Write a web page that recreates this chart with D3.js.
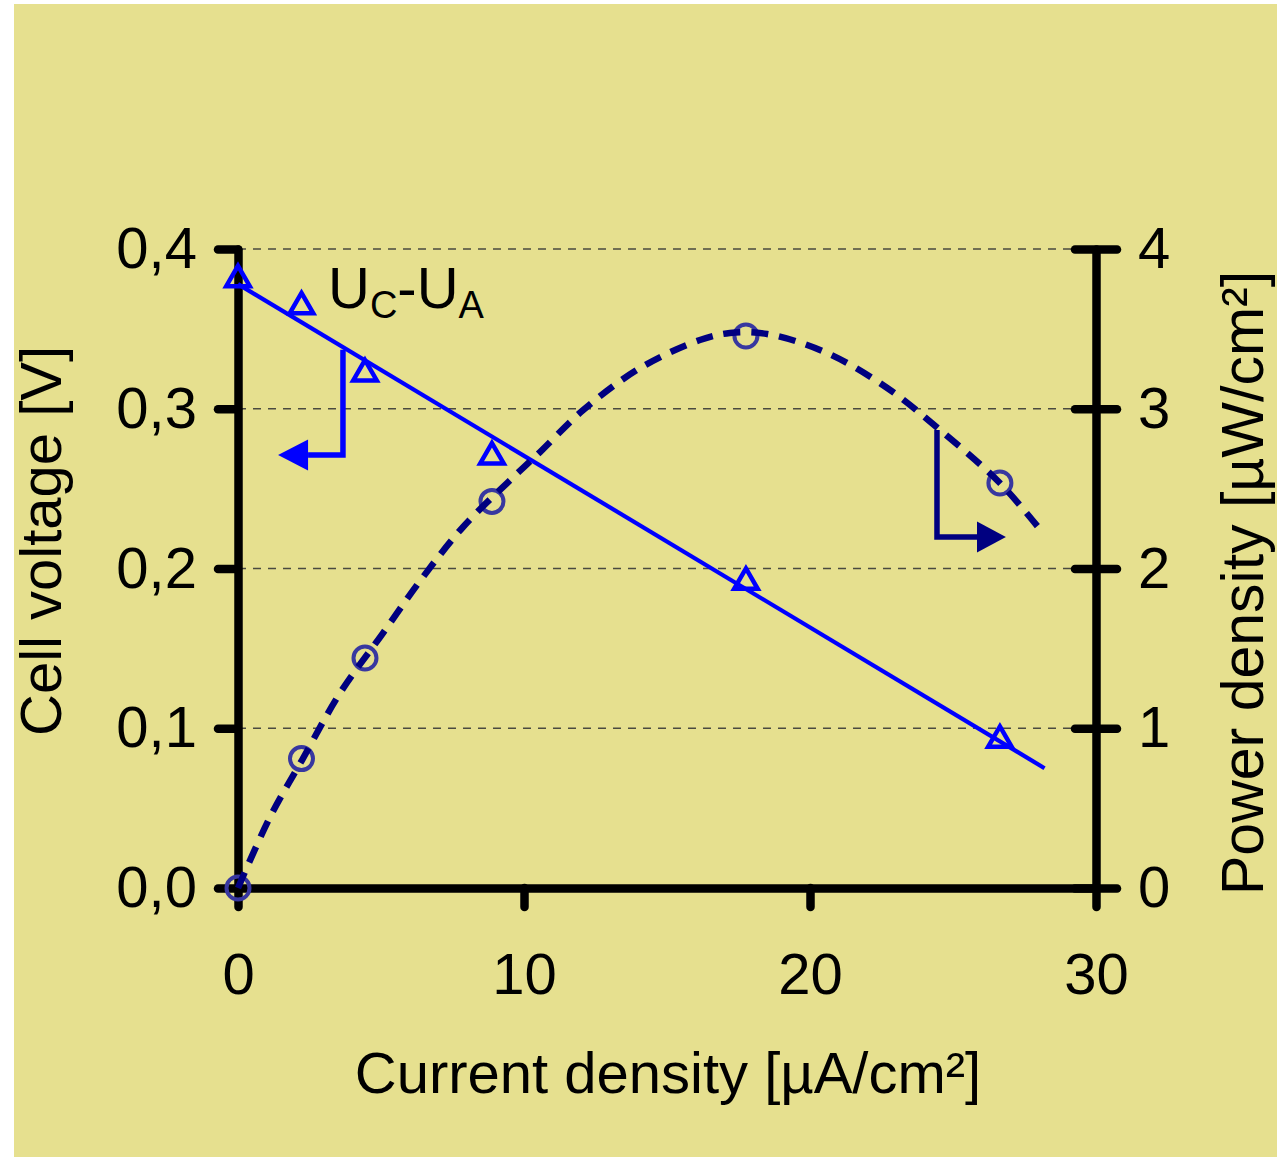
<!DOCTYPE html>
<html>
<head>
<meta charset="utf-8">
<script src="https://cdn.jsdelivr.net/npm/d3@7"></script>
<style>
  html, body { margin: 0; padding: 0; background: #ffffff; }
  svg { display: block; }
  text { font-family: "Liberation Sans", Arial, sans-serif; fill: #000; }
</style>
</head>
<body>
<svg id="chart" width="1277" height="1157"></svg>
<script>
// ---- data ----
const current = [0, 2.22, 4.44, 8.88, 17.76, 26.64];            // µA/cm²
const voltage = [0.381, 0.364, 0.322, 0.270, 0.1915, 0.0926];   // V  (triangles)
const power   = [0, 0.81, 1.44, 2.42, 3.455, 2.535];            // µW/cm² (circles)
const fitCurrent = [0, 28.2];
const fitVoltage = [0.378, 0.075];
const powerCurveCurrent = [0, 1.12, 2.24, 3.57, 5.07, 6.47, 7.87, 9.41, 10.56, 12.06, 14.06, 16.15, 17.2, 18.5, 20.6, 22.7, 24.55, 26.64, 28.0];
const powerCurveValue   = [0, 0.444, 0.801, 1.221, 1.596, 1.947, 2.26, 2.535, 2.729, 2.99, 3.255, 3.43, 3.474, 3.468, 3.349, 3.13, 2.867, 2.535, 2.254];
const xTicks = [0, 10, 20, 30];
const vTicks = [0, 0.1, 0.2, 0.3, 0.4];
const pTicks = [0, 1, 2, 3, 4];
const gridTicks = [0.1, 0.2, 0.3, 0.4];
const xTitle = "Current density [µA/cm²]";
const vTitle = "Cell voltage [V]";
const pTitle = "Power density [µW/cm²]";
// annotation arrows (data units)
const voltArrow = { x: 3.67, yTop: 0.337, yBot: 0.271, xBase: 2.45, xTip: 1.40 };
const powArrow  = { x: 24.44, yTop: 2.867, yBot: 2.197, xBase: 25.84, xTip: 26.85 };

// ---- layout ----
const W = 1277, H = 1157;
const svg = d3.select("#chart");
const mLeft = 238, mRight = 1096, mTop = 249, mBottom = 888;
const FS = 58;

svg.append("rect").attr("x", 14).attr("y", 4).attr("width", W - 14).attr("height", H - 4)
  .attr("fill", "#e6e08f");

const x = d3.scaleLinear().domain([0, 30]).range([mLeft, mRight]);
const yV = d3.scaleLinear().domain([0, 0.4]).range([mBottom, mTop]);
const yP = d3.scaleLinear().domain([0, 4]).range([mBottom, mTop]);

// grid
svg.append("g").selectAll("line").data(gridTicks).join("line")
  .attr("x1", mLeft).attr("x2", mRight)
  .attr("y1", d => yV(d)).attr("y2", d => yV(d))
  .attr("stroke", "#4a4a40").attr("stroke-width", 1.4).attr("stroke-dasharray", "8,7");

function styleAxis(g) {
  g.attr("font-size", null).attr("font-family", null);
  g.select(".domain").attr("stroke", "#000").attr("stroke-width", 8.5).attr("stroke-linecap", "round");
  g.selectAll(".tick line").attr("stroke", "#000").attr("stroke-width", 8.5).attr("stroke-linecap", "round");
  g.selectAll(".tick text").attr("font-size", FS).attr("font-family", "Liberation Sans, Arial, sans-serif").attr("fill", "#000");
}

// axes
const gx = svg.append("g").attr("transform", `translate(0,${mBottom})`)
  .call(d3.axisBottom(x).tickValues(xTicks).tickSize(19).tickSizeOuter(0).tickPadding(46).tickFormat(d3.format("d")));
styleAxis(gx);

const gl = svg.append("g").attr("transform", `translate(${mLeft},0)`)
  .call(d3.axisLeft(yV).tickValues(vTicks).tickSize(20).tickSizeOuter(0).tickPadding(21)
    .tickFormat(d => d.toFixed(1).replace(".", ",")));
styleAxis(gl);

const gr = svg.append("g").attr("transform", `translate(${mRight},0)`)
  .call(d3.axisRight(yP).tickValues(pTicks).tickSize(21).tickSizeOuter(0).tickPadding(21).tickFormat(d3.format("d")));
styleAxis(gr);
gr.selectAll(".tick line").attr("x1", -21).attr("x2", 21);

// titles
svg.append("text").attr("x", (mLeft + mRight) / 2 + 1).attr("y", 1093)
  .attr("text-anchor", "middle").attr("font-size", FS).text(xTitle);
svg.append("text").attr("transform", `translate(61,736) rotate(-90)`)
  .attr("text-anchor", "start").attr("font-size", FS).text(vTitle);
svg.append("text").attr("transform", `translate(1263,895) rotate(-90)`)
  .attr("text-anchor", "start").attr("font-size", 59).text(pTitle);

// fit line (voltage)
const vLine = d3.line().x(d => x(d[0])).y(d => yV(d[1]));
svg.append("path").datum(d3.zip(fitCurrent, fitVoltage))
  .attr("d", vLine).attr("fill", "none").attr("stroke", "#0000ff").attr("stroke-width", 4.2);

// triangles
svg.append("g").selectAll("path").data(d3.zip(current, voltage)).join("path")
  .attr("d", d3.symbol(d3.symbolTriangle).size(240))
  .attr("transform", d => `translate(${x(d[0])},${yV(d[1])})`)
  .attr("fill", "none").attr("stroke", "#0000ff").attr("stroke-width", 4.5);

// circles
svg.append("g").selectAll("circle").data(d3.zip(current, power)).join("circle")
  .attr("cx", d => x(d[0])).attr("cy", d => yP(d[1])).attr("r", 11.5)
  .attr("fill", "none").attr("stroke", "#3838a0").attr("stroke-width", 4);

// power curve (dashed)
const pLine = d3.line().x(d => x(d[0])).y(d => yP(d[1])).curve(d3.curveCatmullRom);
svg.append("path").datum(d3.zip(powerCurveCurrent, powerCurveValue))
  .attr("d", pLine).attr("fill", "none").attr("stroke", "#000080")
  .attr("stroke-width", 6.5).attr("stroke-dasharray", "17,11");

// arrows
function arrow(a, ys, color) {
  const px = x(a.x), pt = ys(a.yTop), pb = ys(a.yBot), bx = x(a.xBase), tx = x(a.xTip);
  svg.append("path").attr("d", `M${px},${pt}V${pb}H${bx}`)
    .attr("fill", "none").attr("stroke", color).attr("stroke-width", 5.5).attr("stroke-linejoin", "miter");
  svg.append("path").attr("d", `M${tx},${pb}L${bx},${pb - 15.5}L${bx},${pb + 15.5}Z`).attr("fill", color);
}
arrow(voltArrow, yV, "#0000ff");
arrow(powArrow, yP, "#000080");

// series label U_C - U_A
const lab = svg.append("text").attr("x", 328).attr("y", 308).attr("font-size", FS);
lab.append("tspan").text("U");
lab.append("tspan").attr("font-size", 38).attr("dy", 10).text("C");
lab.append("tspan").attr("dy", -10).text("-U");
lab.append("tspan").attr("font-size", 38).attr("dy", 10).text("A");
</script>
</body>
</html>
